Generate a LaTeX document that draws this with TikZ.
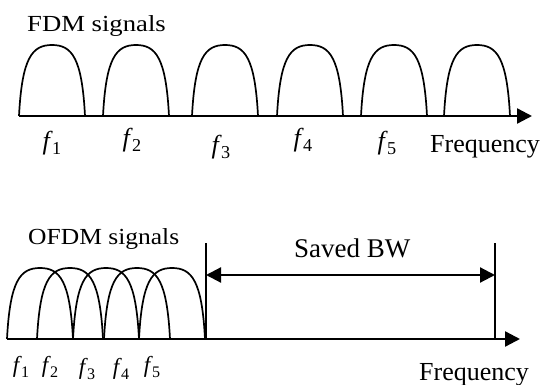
\documentclass[tikz,border=0pt]{standalone}
\usepackage{fontspec}
\setmainfont{Liberation Serif}
\usetikzlibrary{arrows.meta}
\newcommand\fl[1]{\textit{f}\kern-0.03em\raisebox{-0.2em}{\scalebox{0.7}{#1}}}
\begin{document}
\begin{tikzpicture}[x=1pt,y=-1pt,
  axis/.style={line width=2.4pt,-{Triangle[length=15pt,width=15pt]}},
  humpline/.style={line width=1.7pt,line join=round},
  vline/.style={line width=1.6pt},
  bw/.style={line width=2.2pt,{Triangle[length=15pt,width=15pt]}-{Triangle[length=15pt,width=15pt]}},
  lbl/.style={inner sep=0pt},
  flt/.style={lbl,font=\fontsize{26}{26}\selectfont},
  flb/.style={lbl,font=\fontsize{23}{23}\selectfont},
  hump/.pic={\draw[humpline] (0,0) .. controls (3,-58) and (13,-71) .. (33,-71) .. controls (53,-71) and (63,-58) .. (66,0);}
]
\useasboundingbox[fill=white] (0,0) rectangle (544,385);

% ---------- FDM ----------
\node[lbl,anchor=base west,font=\fontsize{23}{23}\selectfont] (fdm) at (27,32) {\scalebox{1.16}[1]{FDM signals}};
\foreach \x in {19,103,192,277,361,444} \pic at (\x,116) {hump};
\coordinate (a1s) at (19,116);
\coordinate (a1e) at (532,116);
\draw[axis] (a1s) -- (a1e);
\node[flt] (t1) at (52,143) {\fl{1}};
\node[flt] (t2) at (132,140) {\fl{2}};
\node[flt] (t3) at (221,147) {\fl{3}};
\node[flt] (t4) at (303,140) {\fl{4}};
\node[flt] (t5) at (387,143) {\fl{5}};
\node[lbl,anchor=base west,font=\fontsize{26}{26}\selectfont] (freq1) at (430,153) {Frequency};

% ---------- OFDM ----------
\node[lbl,anchor=base west,font=\fontsize{23}{23}\selectfont] (ofdm) at (28,244) {\scalebox{1.11}[1]{OFDM signals}};
\foreach \x in {7,37,73,104,139} \pic at (\x,339) {hump};
\coordinate (a2s) at (7,339);
\coordinate (a2e) at (520,339);
\draw[axis] (a2s) -- (a2e);
\coordinate (v1t) at (206,243);
\coordinate (v1b) at (206,339);
\coordinate (v2t) at (495,243);
\coordinate (v2b) at (495,339);
\draw[vline] (v1t) -- (v1b);
\draw[vline] (v2t) -- (v2b);
\coordinate (d1) at (206,275);
\coordinate (d2) at (495,275);
\draw[bw] (d1) -- (d2);
\node[lbl,anchor=base west,font=\fontsize{27}{27}\selectfont] (saved) at (294,257) {Saved BW};
\node[flb] (b1) at (21,367) {\fl{1}};
\node[flb] (b2) at (50,367) {\fl{2}};
\node[flb] (b3) at (87,369) {\fl{3}};
\node[flb] (b4) at (121,369) {\fl{4}};
\node[flb] (b5) at (152,367) {\fl{5}};
\node[lbl,anchor=base west,font=\fontsize{26}{26}\selectfont] (freq2) at (419,380) {Frequency};
\end{tikzpicture}
\end{document}
